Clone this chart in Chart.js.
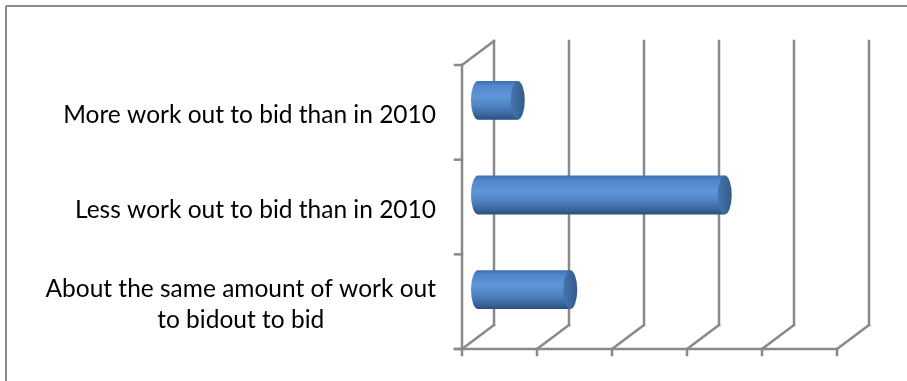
<!DOCTYPE html>
<html>
<head>
<meta charset="utf-8">
<script src="https://cdn.jsdelivr.net/npm/chart.js@4.4.1/dist/chart.umd.min.js"></script>
<style>
  html, body { margin: 0; padding: 0; background: #fff; }
</style>
</head>
<body>
<canvas id="chart" width="907" height="381"></canvas>
<script>
// categories, top to bottom
const categories = [
    "More work out to bid than in 2010",
    "Less work out to bid than in 2010",
    ["About the same amount of work out", "to bidout to bid"]
];
// share of answers (axis labels are hidden in the original)
const values = [5.3, 32.9, 12.3];
const xMin = 0, xMax = 50, xStep = 10;

// 3D box: full depth of the box, cylinders sit half way in
const DEPTH_X = 32, DEPTH_Y = -24;
const GRID = "#898989";
const LABEL_FONT = "24.5px Lato";

function line(ctx, x1, y1, x2, y2) {
    ctx.beginPath();
    ctx.moveTo(x1, y1);
    ctx.lineTo(x2, y2);
    ctx.stroke();
}

const box3d = {
    id: "box3d",
    beforeDraw(chart) {
        // outer frame of the chart object (only left & top are inside the picture)
        const ctx = chart.ctx;
        ctx.save();
        ctx.strokeStyle = "#8a8a8a";
        ctx.lineWidth = 2;
        line(ctx, 6, 6, chart.width, 6);
        line(ctx, 6, 6, 6, chart.height);
        ctx.restore();
    },
    beforeDatasetsDraw(chart) {
        const { ctx, chartArea: a, scales: { x, y } } = chart;
        const hx = DEPTH_X / 2, hy = DEPTH_Y / 2;
        const x0 = x.getPixelForValue(xMin);
        const fTop = a.top - hy, fBot = a.bottom - hy;   // front plane
        const bTop = a.top + hy, bBot = a.bottom + hy;   // back plane

        ctx.save();
        ctx.strokeStyle = GRID;
        ctx.lineWidth = 2.5;
        ctx.lineCap = "square";

        // back wall gridlines + floor lines
        x.ticks.forEach(t => {
            const px = x.getPixelForValue(t.value);
            line(ctx, px + hx, bTop, px + hx, bBot);
            line(ctx, px - hx, fBot, px + hx, bBot);
            // tick marks under the front axis
            line(ctx, px - hx, fBot, px - hx, fBot + 6);
        });

        // left wall: top edge and front axis
        line(ctx, x0 - hx, fTop, x0 + hx, bTop);
        line(ctx, x0 - hx, fTop, x0 - hx, fBot);
        // bottom front axis
        line(ctx, x0 - hx - 7, fBot, x.getPixelForValue(xMax) - hx, fBot);

        // category tick marks on the left axis
        for (let k = 0; k <= categories.length; k++) {
            const py = y.getPixelForValue(k - 0.5) - hy;
            line(ctx, x0 - hx - 7, py, x0 - hx, py);
        }
        ctx.restore();
    },
    afterDatasetsDraw(chart) {
        const ctx = chart.ctx;
        const meta = chart.getDatasetMeta(0);
        ctx.save();
        meta.data.forEach(bar => {
            const { x: end, base, y: cy, height: h } = bar.getProps(["x", "base", "y", "height"], true);
            const top = cy - h / 2, bot = cy + h / 2, rx = 7;

            // cylinder body with its rounded start
            const g = ctx.createLinearGradient(0, top, 0, bot);
            g.addColorStop(0, "#3f6fae");
            g.addColorStop(0.12, "#5287cb");
            g.addColorStop(0.4, "#5f96d8");
            g.addColorStop(0.65, "#4f82c2");
            g.addColorStop(0.85, "#3c689f");
            g.addColorStop(1, "#2b4f80");
            ctx.fillStyle = g;
            ctx.beginPath();
            ctx.ellipse(base, cy, rx, h / 2, 0, Math.PI / 2, Math.PI * 1.5);
            ctx.lineTo(end, top);
            ctx.lineTo(end, bot);
            ctx.closePath();
            ctx.fill();

            // end cap
            const g2 = ctx.createLinearGradient(end - rx, 0, end + rx, 0);
            g2.addColorStop(0, "#4676b0");
            g2.addColorStop(0.4, "#3d6aa0");
            g2.addColorStop(1, "#345b8c");
            ctx.fillStyle = g2;
            ctx.beginPath();
            ctx.ellipse(end, cy, rx, h / 2, 0, 0, Math.PI * 2);
            ctx.fill();
        });
        ctx.restore();
    },
    afterDraw(chart) {
        // category labels sit on the front plane, wrapped lines centred under each other
        const { ctx, chartArea: a, scales: { y } } = chart;
        const hy = DEPTH_Y / 2;
        const right = a.left - 42, lineH = 31;
        ctx.save();
        ctx.font = LABEL_FONT;
        ctx.fillStyle = "#000";
        ctx.textAlign = "center";
        ctx.textBaseline = "middle";
        categories.forEach((lab, i) => {
            const lines = Array.isArray(lab) ? lab : [lab];
            const w = Math.max(...lines.map(s => ctx.measureText(s).width));
            const cx = right - w / 2;
            const yc = y.getPixelForValue(i) - hy + 3;
            lines.forEach((s, j) => {
                ctx.fillText(s, cx, yc + (j - (lines.length - 1) / 2) * lineH);
            });
        });
        ctx.restore();
    }
};

new Chart(document.getElementById("chart"), {
    type: "bar",
    data: {
        labels: categories,
        datasets: [{
            data: values,
            backgroundColor: "rgba(0,0,0,0)",
            borderWidth: 0,
            barPercentage: 0.41,
            categoryPercentage: 1
        }]
    },
    options: {
        indexAxis: "y",
        responsive: false,
        animation: false,
        layout: { padding: { left: 478, right: 54, top: 53, bottom: 44 } },
        scales: {
            x: { display: false, min: xMin, max: xMax, ticks: { stepSize: xStep } },
            y: { display: false }
        },
        plugins: { legend: { display: false }, tooltip: { enabled: false } }
    },
    plugins: [box3d]
});
</script>
</body>
</html>
